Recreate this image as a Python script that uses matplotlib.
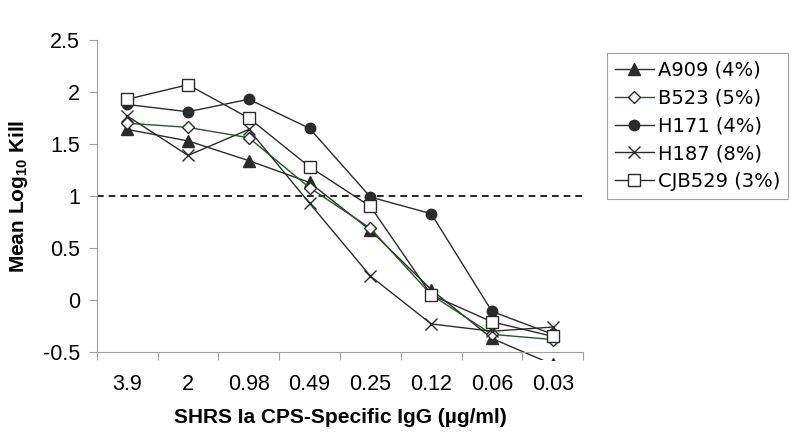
import numpy as np
import matplotlib.pyplot as plt
from matplotlib.patches import Rectangle

plt.rcParams['font.family'] = ['Liberation Sans', 'DejaVu Sans']
plt.rcParams['mathtext.fontset'] = 'custom'
plt.rcParams['mathtext.rm'] = 'Liberation Sans'
plt.rcParams['mathtext.bf'] = 'Liberation Sans:bold'

# ── data ─────────────────────────────────────────────────────────────────────
x_labels = ["3.9", "2", "0.98", "0.49", "0.25", "0.12", "0.06", "0.03"]
A909   = [1.64, 1.53, 1.34, 1.13, 0.67, 0.10, -0.37, -0.62]
B523   = [1.70, 1.66, 1.56, 1.08, 0.69, 0.05, -0.33, -0.38]
H171   = [1.88, 1.81, 1.93, 1.65, 0.99, 0.83, -0.11, -0.33]
H187   = [1.77, 1.39, 1.64, 0.93, 0.23, -0.23, -0.30, -0.26]
CJB529 = [1.93, 2.07, 1.75, 1.28, 0.90, 0.05, -0.21, -0.35]
series_names = ["A909 (4%)", "B523 (5%)", "H171 (4%)", "H187 (8%)", "CJB529 (3%)"]
threshold = 1.0

# ── figure ───────────────────────────────────────────────────────────────────
fig = plt.figure(figsize=(8, 4.47), dpi=100)
ax = fig.add_axes([0.121, 0.2125, 0.608, 0.698])

x = np.arange(len(x_labels))
dark = "#2b2b2b"
green = "#1f5f1f"
styles = [
    dict(color=dark, marker="^", ms=9, mfc=dark, mec=dark),
    dict(color=green, marker="D", ms=6, mfc="white", mec=dark, mew=1.0),
    dict(color=dark, marker="o", ms=7.5, mfc=dark, mec=dark),
    dict(color=dark, marker="x", ms=9, mec=dark, mew=1.0),
    dict(color=dark, marker="s", ms=8, mfc="white", mec=dark, mew=1.0),
]
# Excel laat lijn iets onder de as doorlopen
clip = Rectangle((0, -0.025), 1, 1.025, transform=ax.transAxes)
handles = []
for vals, name, st in zip([A909, B523, H171, H187, CJB529], series_names, styles):
    ln, = ax.plot(x, vals, lw=1.0, label=name, **st)
    ln.set_clip_path(clip)
    handles.append(ln)

ax.axhline(threshold, color="black", ls=(0, (4, 3)), lw=1.2, zorder=1)

ax.set_xlim(-0.5, len(x_labels) - 0.5)
ax.set_ylim(-0.5, 2.5)
ax.set_yticks(np.arange(-0.5, 2.51, 0.5))
ax.set_yticklabels(["-0.5", "0", "0.5", "1", "1.5", "2", "2.5"])
ax.set_xticks(np.arange(-0.5, len(x_labels), 1))
ax.set_xticklabels([])
ax.set_xticks(x, minor=True)
ax.set_xticklabels(x_labels, minor=True)
ax.tick_params(axis="x", which="minor", length=0, pad=16, labelsize=15.5)
ax.tick_params(axis="x", which="major", length=6, color="#a0a0a0")
ax.tick_params(axis="y", length=6, color="#a0a0a0", labelsize=15.5, pad=6)

for s in ["top", "right"]:
    ax.spines[s].set_visible(False)
for s in ["left", "bottom"]:
    ax.spines[s].set_color("#a0a0a0")

ax.set_ylabel(r"Mean Log$_{\mathbf{10}}$ Kill", fontsize=15, fontweight="bold", labelpad=9)
ax.set_xlabel("SHRS Ia CPS-Specific IgG (µg/ml)", fontsize=15, fontweight="bold", labelpad=9)

leg = fig.legend(handles=handles, loc="upper left", bbox_to_anchor=(0.759, 0.881),
                 frameon=True, fancybox=False, edgecolor="#a0a0a0", framealpha=1,
                 prop={"family": "DejaVu Sans", "size": 14}, handlelength=2.0,
                 labelspacing=0.45, borderpad=0.4, handletextpad=0.2, borderaxespad=0)
leg.get_frame().set_linewidth(0.8)

fig.savefig("out.png", dpi=100)
